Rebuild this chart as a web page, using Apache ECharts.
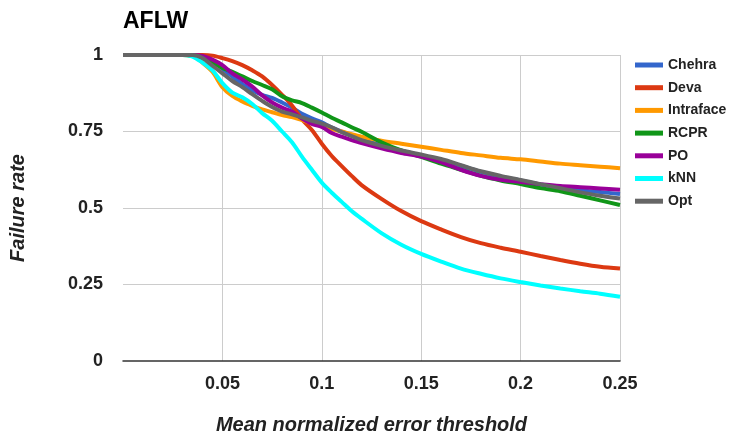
<!DOCTYPE html>
<html><head><meta charset="utf-8">
<script src="https://cdn.jsdelivr.net/npm/echarts@6/dist/echarts.min.js"></script>
<style>html,body{margin:0;padding:0;background:#fff}#c{width:736px;height:441px}</style>
</head><body><div id="c"></div>
<script>
const thresholds = [0, 0.02, 0.03, 0.035, 0.04, 0.045, 0.05, 0.055, 0.06, 0.065, 0.07, 0.075, 0.08, 0.085, 0.09, 0.095, 0.1, 0.105, 0.11, 0.115, 0.12, 0.13, 0.14, 0.15, 0.16, 0.17, 0.18, 0.19, 0.2, 0.21, 0.22, 0.23, 0.24, 0.25];
const chehra    = [1, 1, 1, 1, 0.995, 0.98, 0.955, 0.93, 0.905, 0.885, 0.87, 0.86, 0.845, 0.828, 0.808, 0.793, 0.78, 0.763, 0.75, 0.738, 0.725, 0.705, 0.687, 0.672, 0.655, 0.638, 0.618, 0.602, 0.59, 0.577, 0.567, 0.558, 0.552, 0.546];
const deva      = [1, 1, 1, 1, 1, 0.998, 0.99, 0.98, 0.967, 0.95, 0.93, 0.902, 0.87, 0.835, 0.79, 0.755, 0.71, 0.67, 0.637, 0.605, 0.575, 0.53, 0.49, 0.457, 0.43, 0.405, 0.385, 0.37, 0.357, 0.343, 0.33, 0.318, 0.308, 0.302];
const intraface = [1, 1, 1, 1, 0.975, 0.945, 0.895, 0.866, 0.848, 0.834, 0.822, 0.813, 0.804, 0.797, 0.787, 0.777, 0.768, 0.758, 0.75, 0.741, 0.733, 0.72, 0.71, 0.70, 0.69, 0.68, 0.672, 0.664, 0.659, 0.652, 0.645, 0.64, 0.635, 0.63];
const rcpr      = [1, 1, 1, 0.997, 0.99, 0.975, 0.958, 0.945, 0.93, 0.915, 0.902, 0.888, 0.865, 0.852, 0.843, 0.828, 0.812, 0.795, 0.78, 0.764, 0.749, 0.715, 0.688, 0.667, 0.645, 0.625, 0.605, 0.59, 0.578, 0.565, 0.555, 0.54, 0.525, 0.51];
const po        = [1, 1, 1, 1, 0.997, 0.985, 0.967, 0.94, 0.92, 0.897, 0.868, 0.845, 0.828, 0.815, 0.792, 0.775, 0.765, 0.745, 0.733, 0.722, 0.712, 0.695, 0.68, 0.668, 0.65, 0.625, 0.605, 0.592, 0.585, 0.578, 0.572, 0.568, 0.564, 0.56];
const knn       = [1, 1, 1, 0.995, 0.975, 0.95, 0.908, 0.877, 0.862, 0.84, 0.81, 0.785, 0.75, 0.715, 0.668, 0.625, 0.583, 0.55, 0.52, 0.49, 0.465, 0.418, 0.38, 0.35, 0.325, 0.302, 0.285, 0.27, 0.258, 0.247, 0.237, 0.228, 0.22, 0.21];
const opt       = [1, 1, 1, 1, 0.99, 0.965, 0.94, 0.915, 0.895, 0.872, 0.85, 0.83, 0.815, 0.806, 0.796, 0.785, 0.776, 0.764, 0.748, 0.735, 0.722, 0.703, 0.688, 0.675, 0.66, 0.64, 0.62, 0.605, 0.592, 0.578, 0.565, 0.551, 0.54, 0.531];
const seriesNames = ['Chehra', 'Deva', 'Intraface', 'RCPR', 'PO', 'kNN', 'Opt'];
const seriesValues = [chehra, deva, intraface, rcpr, po, knn, opt];
const colors = ['#3366cc', '#dc3912', '#ff9900', '#109618', '#990099', '#00ffff', '#666666'];
const xTicks = [0.05, 0.1, 0.15, 0.2, 0.25];
const yTicks = [0, 0.25, 0.5, 0.75, 1];

const chart = echarts.init(document.getElementById('c'));
const font = 'Liberation Sans, Arial, sans-serif';
chart.setOption({
  animation: false,
  color: colors,
  textStyle: {fontFamily: font},
  title: {text: 'AFLW', left: 118, top: 5, textStyle: {fontSize: 23, fontWeight: 'bold', color: '#000', fontFamily: font}},
  legend: {
    orient: 'vertical', left: 630, top: 53, icon: 'rect', itemWidth: 28, itemHeight: 5, itemGap: 8.7,
    textStyle: {fontSize: 14, fontWeight: 'bold', color: '#222', fontFamily: font},
    data: seriesNames
  },
  grid: {left: 122, right: 116, top: 55, bottom: 80, containLabel: false},
  xAxis: {
    type: 'value', min: 0, max: 0.25, interval: 0.05,
    name: 'Mean normalized error threshold', nameLocation: 'middle', nameGap: 54,
    nameTextStyle: {fontSize: 20, fontWeight: 'bold', fontStyle: 'italic', color: '#222', fontFamily: font},
    axisLine: {show: true, lineStyle: {color: '#333333', width: 1.5}}, axisTick: {show: false},
    axisLabel: {fontSize: 18, fontWeight: 'bold', color: '#222', margin: 14,
      formatter: v => xTicks.some(t => Math.abs(t - v) < 1e-9) ? String(+v.toFixed(2)) : ''},
    splitLine: {show: true, showMinLine: false, lineStyle: {color: '#cccccc', width: 1}}
  },
  yAxis: {
    type: 'value', min: 0, max: 1, interval: 0.25,
    name: 'Failure rate', nameLocation: 'middle', nameGap: 95,
    nameTextStyle: {fontSize: 20, fontWeight: 'bold', fontStyle: 'italic', color: '#222', fontFamily: font},
    axisLine: {show: false}, axisTick: {show: false},
    axisLabel: {fontSize: 18, fontWeight: 'bold', color: '#222', margin: 20,
      formatter: v => yTicks.some(t => Math.abs(t - v) < 1e-9) ? String(+v.toFixed(2)) : ''},
    splitLine: {show: true, showMinLine: false, lineStyle: {color: '#cccccc', width: 1}}
  },
  series: seriesNames.map((n, k) => ({
    name: n, type: 'line', smooth: 0.3, showSymbol: false, symbol: 'none',
    lineStyle: {width: 4, color: colors[k]},
    data: thresholds.map((t, i) => [t, seriesValues[k][i]])
  }))
});
</script></body></html>
